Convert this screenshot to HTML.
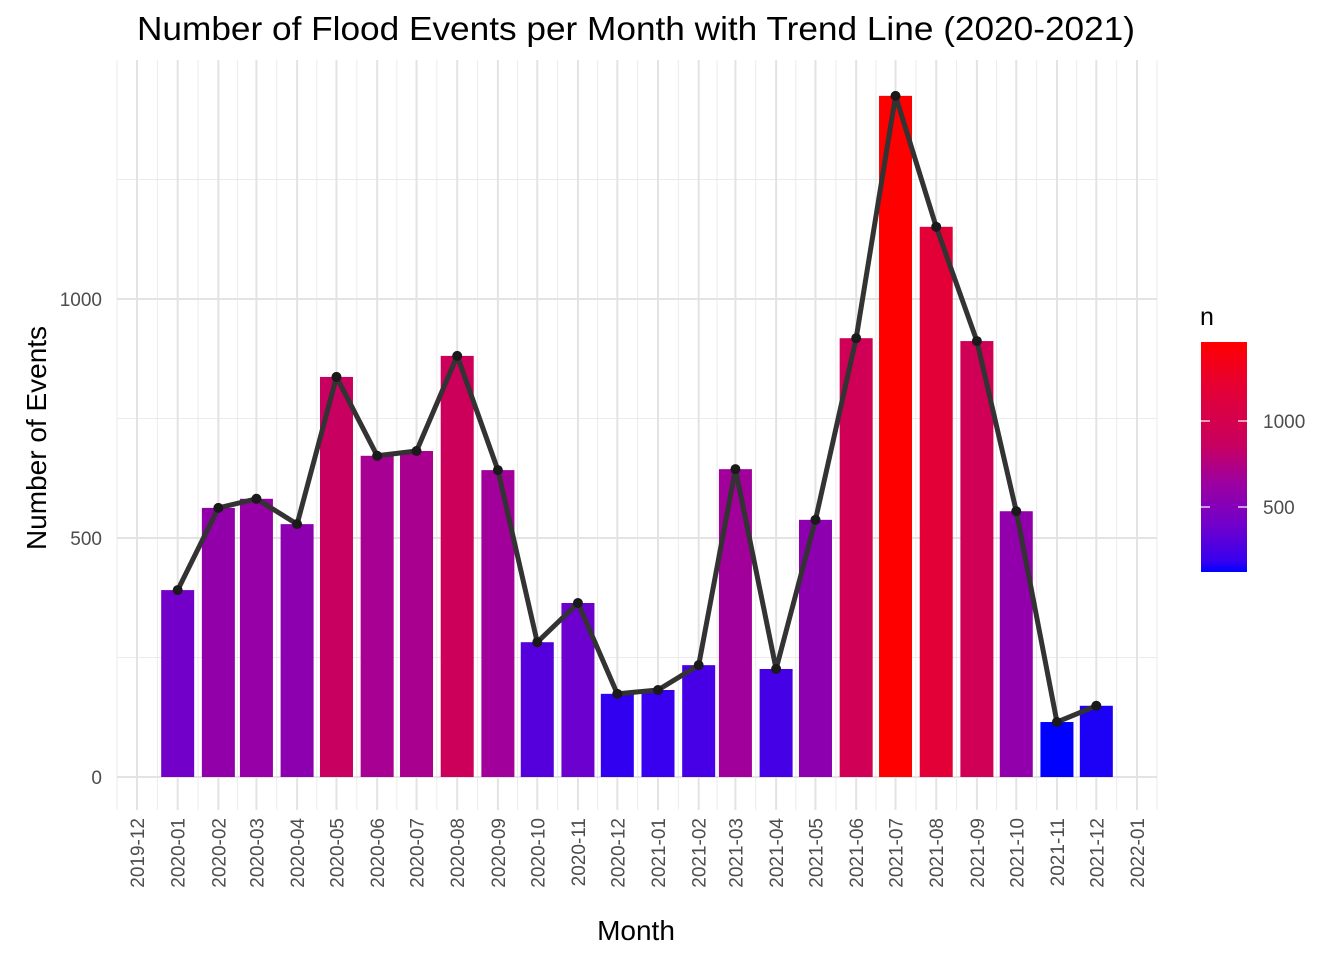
<!DOCTYPE html>
<html><head><meta charset="utf-8"><style>
body{margin:0;background:#fff;font-family:"Liberation Sans",Arial,sans-serif;}
</style></head><body>
<svg id="chart" width="1344" height="960" xmlns="http://www.w3.org/2000/svg" font-family="Liberation Sans, Arial, sans-serif">
<defs>
<linearGradient id="lg" x1="0" y1="1" x2="0" y2="0">
<stop offset="0" stop-color="#0000ff"/><stop offset="0.05" stop-color="#3800ee"/><stop offset="0.2" stop-color="#7000cc"/><stop offset="0.4" stop-color="#a0009c"/><stop offset="0.55" stop-color="#c80060"/><stop offset="0.8" stop-color="#e40035"/><stop offset="1" stop-color="#ff0000"/>
</linearGradient>
</defs>
<g id="grid"></g>
<g id="bars"></g>
<g id="trend"></g>
<g id="axes"></g>
<text x="636" y="40" font-size="33" text-anchor="middle" fill="#000" textLength="998" lengthAdjust="spacingAndGlyphs">Number of Flood Events per Month with Trend Line (2020-2021)</text>
<text x="636" y="940" font-size="28" text-anchor="middle">Month</text>
<text transform="translate(46,438) rotate(-90)" font-size="28" text-anchor="middle">Number of Events</text>
<g>
<text x="1200" y="325" font-size="25">n</text>
<rect x="1201" y="342" width="46" height="230" fill="url(#lg)"/>
<g id="legticks"></g>
</g>
</svg>
<script>
const months=["2020-01","2020-02","2020-03","2020-04","2020-05","2020-06","2020-07","2020-08","2020-09","2020-10","2020-11","2020-12","2021-01","2021-02","2021-03","2021-04","2021-05","2021-06","2021-07","2021-08","2021-09","2021-10","2021-11","2021-12"];
const counts=[391,563,582,529,837,672,682,881,642,282,364,174,182,234,644,226,538,918,1425,1151,912,556,115,149];
const xTickLabels=["2019-12","2020-01","2020-02","2020-03","2020-04","2020-05","2020-06","2020-07","2020-08","2020-09","2020-10","2020-11","2020-12","2021-01","2021-02","2021-03","2021-04","2021-05","2021-06","2021-07","2021-08","2021-09","2021-10","2021-11","2021-12","2022-01"];
const yTicks=[0,500,1000];
const yMinor=[250,750,1250];
const legendTicks=[500,1000];
const NS="http://www.w3.org/2000/svg";
const t0=Date.UTC(2019,11,1), t1=Date.UTC(2022,0,1);
function toDate(s){const [y,m]=s.split("-").map(Number);return Date.UTC(y,m-1,1);}
function xs(s){return 137+(toDate(s)-t0)/(t1-t0)*1000;}
function ys(v){return 777-v*0.478;}
function ly(v){return 507-(v-500)*0.172;}
const mn=Math.min(...counts), mx=Math.max(...counts);
const stops=[[0,[0,0,255]],[0.05,[56,0,238]],[0.2,[112,0,204]],[0.4,[160,0,156]],[0.55,[200,0,96]],[0.8,[228,0,53]],[1,[255,0,0]]];
function col(v){let t=(v-mn)/(mx-mn);for(let i=0;i<stops.length-1;i++){const [a,ca]=stops[i],[b,cb]=stops[i+1];if(t<=b){const f=(t-a)/(b-a);return "rgb("+ca.map((c,k)=>Math.round(c+(cb[k]-c)*f)).join(",")+")";}}return "rgb(255,0,0)";}
function el(tag,attrs,parent){const e=document.createElementNS(NS,tag);for(const k in attrs)e.setAttribute(k,attrs[k]);parent.appendChild(e);return e;}
const grid=document.getElementById("grid");
yMinor.forEach(v=>{const l=el("line",{x1:117,x2:1157,y1:ys(v),y2:ys(v),stroke:"#ebebeb","stroke-width":1},grid);

});
for(let i=0;i<xTickLabels.length-1;i++){const xm=(xs(xTickLabels[i])+xs(xTickLabels[i+1]))/2;const l=el("line",{x1:xm,x2:xm,y1:60,y2:810,stroke:"#ebebeb","stroke-width":1},grid);

}
{const xa=xs(xTickLabels[0])-20, xb=xs(xTickLabels[xTickLabels.length-1])+20;[xa,xb].forEach(x=>{const l=el("line",{x1:x,x2:x,y1:60,y2:810,stroke:"#ebebeb","stroke-width":1},grid);

});}
yTicks.forEach(v=>{const l=el("line",{x1:117,x2:1157,y1:ys(v),y2:ys(v),stroke:"#e3e3e3","stroke-width":2},grid);

});
xTickLabels.forEach(s=>{const l=el("line",{x1:xs(s),x2:xs(s),y1:60,y2:810,stroke:"#e3e3e3","stroke-width":2},grid);

});
const bars=document.getElementById("bars");
months.forEach((m,i)=>{const x=xs(m);const r=el("rect",{x:x-16.5,y:ys(counts[i]),width:33,height:ys(0)-ys(counts[i]),fill:col(counts[i])},bars);

});
const tr=document.getElementById("trend");
const pl=el("polyline",{points:months.map((m,i)=>xs(m)+","+ys(counts[i])).join(" "),fill:"none",stroke:"#333","stroke-width":5,"stroke-linejoin":"round"},tr);


months.forEach((m,i)=>{const c=el("circle",{cx:xs(m),cy:ys(counts[i]),r:5,fill:"#1a1a1a"},tr);

});
const ax=document.getElementById("axes");
yTicks.forEach(v=>{const t=el("text",{x:102,y:ys(v)+7,"font-size":19,"text-anchor":"end",fill:"#4d4d4d"},ax);t.textContent=v;

});
xTickLabels.forEach(s=>{const x=xs(s);const t=el("text",{transform:"translate("+(x+7)+",818) rotate(-90)","font-size":19,"text-anchor":"end",fill:"#4d4d4d"},ax);t.textContent=s;

});
const lt=document.getElementById("legticks");
legendTicks.forEach(v=>{const y=ly(v);
const a=el("line",{x1:1201,x2:1210,y1:y,y2:y,stroke:"#fff","stroke-width":1.2},lt);


const b=el("line",{x1:1238,x2:1247,y1:y,y2:y,stroke:"#fff","stroke-width":1.2},lt);


const t=el("text",{x:1263,y:y+7,"font-size":19,fill:"#4d4d4d"},lt);t.textContent=v;

});
</script>
</body></html>
